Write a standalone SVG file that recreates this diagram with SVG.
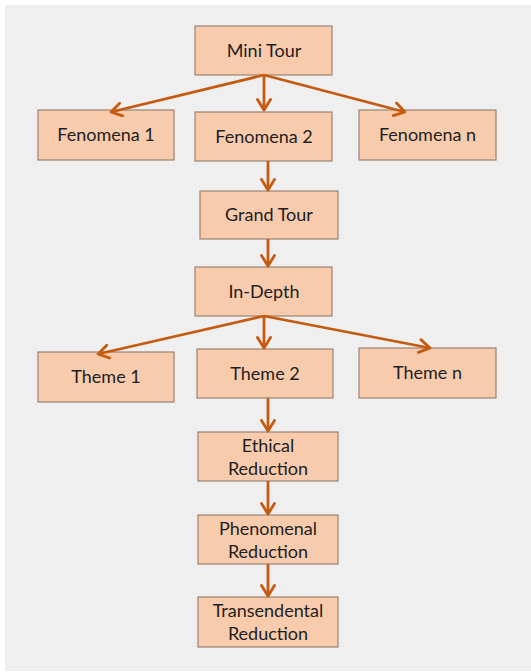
<svg xmlns="http://www.w3.org/2000/svg" width="531" height="672" viewBox="0 0 531 672">
<defs>
<style>
.n rect{fill:#f8cbad;stroke:#9c8272;stroke-width:1.2}
.n text{font-family:Lato,"Open Sans","Liberation Sans",sans-serif;font-size:18px;fill:#1e1e1e;text-anchor:middle}
.c line{stroke:#c55a11;stroke-width:2.8;marker-end:url(#ah)}
</style>
<marker id="ah" viewBox="0 0 16 16" refX="13.5" refY="8" markerWidth="16" markerHeight="16" markerUnits="userSpaceOnUse" orient="auto">
<path d="M3,1.5 L13.5,8 L3,14.5" fill="none" stroke="#c55a11" stroke-width="2.8" stroke-linecap="round" stroke-linejoin="round"/>
</marker>
</defs>
<rect x="0" y="0" width="531" height="672" fill="#ffffff"/>
<rect x="5" y="5" width="526" height="666" fill="#efefef"/>
<g id="mini-tour" class="n"><rect x="195" y="26" width="137" height="49"/><text x="264" y="57">Mini Tour</text></g>
<g id="fenomena-1" class="n"><rect x="38" y="110" width="136" height="50"/><text x="106" y="141">Fenomena  1</text></g>
<g id="fenomena-2" class="n"><rect x="195" y="112" width="137" height="49"/><text x="264" y="143">Fenomena  2</text></g>
<g id="fenomena-n" class="n"><rect x="359" y="110" width="137" height="50"/><text x="427.5" y="141">Fenomena  n</text></g>
<g id="grand-tour" class="n"><rect x="200" y="191" width="138" height="48"/><text x="269" y="221">Grand Tour</text></g>
<g id="in-depth" class="n"><rect x="195" y="267" width="137" height="49"/><text x="264" y="298">In-Depth</text></g>
<g id="theme-1" class="n"><rect x="38" y="352" width="136" height="50"/><text x="106" y="383">Theme 1</text></g>
<g id="theme-2" class="n"><rect x="197" y="349" width="136" height="49"/><text x="265" y="380">Theme 2</text></g>
<g id="theme-n" class="n"><rect x="359" y="348" width="137" height="50"/><text x="427.5" y="379">Theme n</text></g>
<g id="ethical-reduction" class="n"><rect x="198" y="432" width="140" height="49"/><text x="268" y="452">Ethical</text><text x="268" y="475">Reduction</text></g>
<g id="phenomenal-reduction" class="n"><rect x="198" y="515" width="140" height="49"/><text x="268" y="535">Phenomenal</text><text x="268" y="558">Reduction</text></g>
<g id="transendental-reduction" class="n"><rect x="198" y="597" width="140" height="50"/><text x="268" y="617">Transendental</text><text x="268" y="640">Reduction</text></g>
<g class="c">
<line x1="264" y1="75" x2="111" y2="112"/>
<line x1="264" y1="75" x2="264" y2="110"/>
<line x1="264" y1="75" x2="405" y2="112"/>
<line x1="268" y1="161" x2="268" y2="190"/>
<line x1="268" y1="239" x2="268" y2="266"/>
<line x1="264" y1="316" x2="98" y2="354"/>
<line x1="264" y1="316" x2="264" y2="348"/>
<line x1="264" y1="316" x2="430" y2="348"/>
<line x1="268" y1="398" x2="268" y2="431"/>
<line x1="268" y1="481" x2="268" y2="514"/>
<line x1="268" y1="564" x2="268" y2="596"/>
</g>
</svg>
